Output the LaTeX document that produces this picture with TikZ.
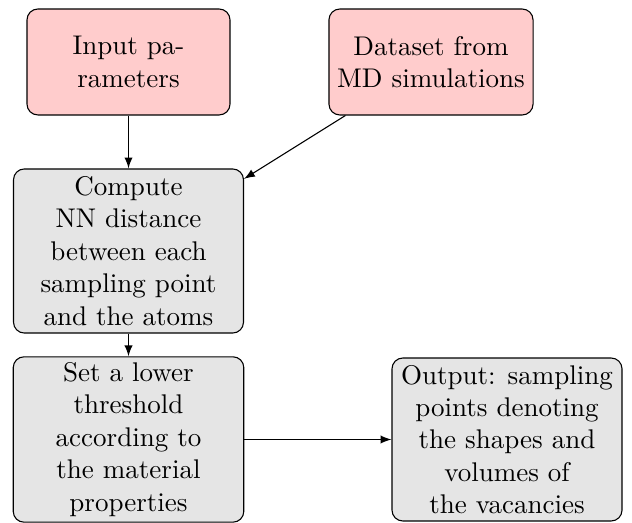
\documentclass[tikz,border=0pt]{standalone}
\usetikzlibrary{arrows}
\begin{document}
\begin{tikzpicture}[x=0.37pt,y=-0.37pt,
  box/.style={draw, rounded corners=4pt, align=center, inner sep=1pt, line width=0.4pt},
  redbox/.style={box, fill=red!20},
  graybox/.style={box, fill=gray!20},
  conn/.style={-latex, line width=0.4pt}]
\useasboundingbox (0,0) rectangle (632,523);
\node[redbox, minimum width=75.1pt, minimum height=39.2pt] (b1) at (128.5,62) {Input pa-\\rameters};
\node[redbox, minimum width=75.5pt, minimum height=39.2pt] (b2) at (431,62) {Dataset from\\MD simulations};
\node[graybox, minimum width=85.1pt, minimum height=60.7pt] (b3) at (128.5,251) {Compute\\NN distance\\between each\\sampling point\\and the atoms};
\node[graybox, minimum width=85.3pt, minimum height=61.2pt] (b4) at (128.5,439.5) {Set a lower\\threshold\\according to\\the material\\properties};
\node[graybox, minimum width=85.1pt, minimum height=60.3pt] (b5) at (507,439.5) {Output: sampling\\points denoting\\the shapes and\\volumes of\\the vacancies};
\draw[conn] (b1) -- (b3);
\draw[conn] (b2) -- (b3);
\draw[conn] (b3) -- (b4);
\draw[conn] (b4) -- (b5);
\end{tikzpicture}
\end{document}
